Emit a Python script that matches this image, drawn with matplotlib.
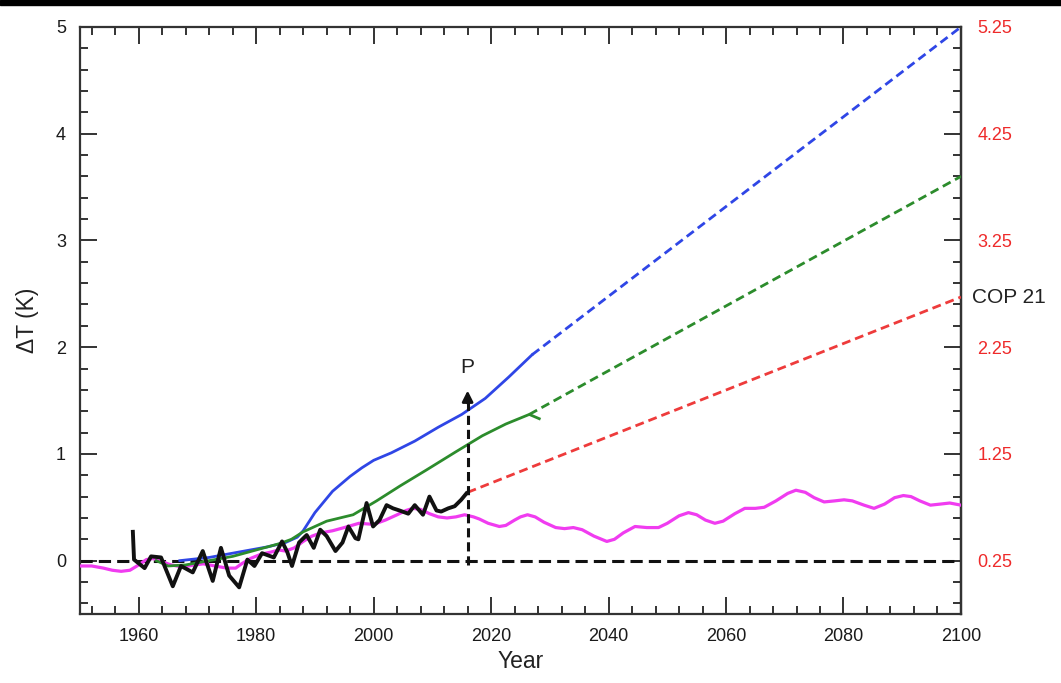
import numpy as np
import matplotlib
matplotlib.use("Agg")
import matplotlib.pyplot as plt
from matplotlib.patches import Rectangle
from matplotlib.ticker import MultipleLocator, FixedLocator

plt.rcParams['font.family'] = ['Liberation Sans', 'DejaVu Sans']

# observed temperature anomaly (black)
obs_years = [1959.0, 1959.2, 1961.0, 1962.1, 1963.8, 1965.8, 1967.2, 1969.2, 1970.9, 1972.6,
             1974.0, 1975.4, 1977.1, 1978.5, 1979.7, 1981.0, 1983.0, 1984.4, 1985.3, 1986.1,
             1987.3, 1988.6, 1989.8, 1990.9, 1992.0, 1993.5, 1994.7, 1995.7, 1996.9, 1997.4,
             1998.8, 1999.9, 2001.0, 2002.2, 2003.3, 2004.4, 2005.9, 2007.0, 2008.4, 2009.5,
             2010.7, 2011.5, 2012.7, 2013.8, 2014.9, 2015.8]
obs_vals = [0.27, 0.01, -0.07, 0.04, 0.03, -0.24, -0.05, -0.11, 0.09, -0.19,
            0.12, -0.14, -0.25, 0.01, -0.05, 0.07, 0.03, 0.18, 0.08, -0.05,
            0.17, 0.24, 0.12, 0.29, 0.23, 0.09, 0.17, 0.32, 0.21, 0.20,
            0.54, 0.32, 0.38, 0.52, 0.49, 0.47, 0.44, 0.52, 0.43, 0.60,
            0.47, 0.46, 0.49, 0.51, 0.57, 0.63]

# natural variability (magenta)
nat_years = [1950, 1952, 1954, 1955.5, 1957, 1958.5, 1960, 1961.3, 1962.5, 1964,
             1965.5, 1967.5, 1969.5, 1971, 1973, 1975, 1976.5, 1977.5, 1979, 1980.8,
             1982.5, 1983.8, 1985, 1986.5, 1988, 1989.5, 1991, 1993, 1995, 1997.5,
             2000, 2002, 2004, 2005.5, 2006.7, 2008, 2009.5, 2011, 2012.5, 2014,
             2015.5, 2017, 2018, 2019.5, 2021.4, 2022.5, 2024, 2025, 2026.2, 2027.5,
             2029, 2031, 2032.5, 2034, 2035.5, 2037.5, 2039.7, 2041, 2042.5, 2044.5,
             2046.5, 2048.5, 2050, 2052, 2053.6, 2055, 2056.5, 2058.1, 2059.5, 2061.5,
             2063.2, 2065, 2066.5, 2068.5, 2070.5, 2071.9, 2073.5, 2075, 2076.7, 2078.5,
             2080.1, 2081.5, 2083.5, 2085.2, 2087, 2088.7, 2090.2, 2091.5, 2093, 2094.8,
             2096.5, 2098.1, 2100]
nat_vals = [-0.05, -0.05, -0.07, -0.09, -0.10, -0.09, -0.04, 0.01, 0.02, -0.01,
            -0.04, -0.06, -0.04, -0.03, -0.05, -0.07, -0.07, -0.03, 0.02, 0.06,
            0.08, 0.10, 0.09, 0.12, 0.18, 0.23, 0.26, 0.28, 0.31, 0.35,
            0.34, 0.38, 0.43, 0.47, 0.49, 0.48, 0.44, 0.41, 0.40, 0.41,
            0.43, 0.41, 0.39, 0.35, 0.32, 0.33, 0.38, 0.41, 0.43, 0.41,
            0.36, 0.31, 0.30, 0.31, 0.29, 0.23, 0.18, 0.20, 0.26, 0.32,
            0.31, 0.31, 0.35, 0.42, 0.45, 0.43, 0.38, 0.35, 0.37, 0.44,
            0.49, 0.49, 0.50, 0.56, 0.63, 0.66, 0.64, 0.59, 0.55, 0.56,
            0.57, 0.56, 0.52, 0.49, 0.53, 0.59, 0.61, 0.60, 0.56, 0.52,
            0.53, 0.54, 0.52]

# model with full forcing (blue)
blue_years = [1967, 1972, 1977, 1982, 1985, 1987, 1988, 1990, 1993, 1996,
              1998, 2000, 2003, 2007, 2011, 2015, 2019, 2023, 2027]
blue_vals = [0.00, 0.03, 0.08, 0.13, 0.17, 0.22, 0.28, 0.45, 0.65, 0.79,
             0.87, 0.94, 1.01, 1.12, 1.25, 1.37, 1.52, 1.72, 1.93]
blue_proj_years = [2027, 2100]
blue_proj_vals = [1.93, 5.0]

# model (green)
green_years = [1963, 1965, 1968, 1972, 1976, 1980, 1984, 1986, 1988, 1992,
               1996.5, 2000.5, 2004.5, 2009, 2014, 2018.5, 2022.5, 2026.5, 2028.2]
green_vals = [0.00, -0.05, -0.04, 0.00, 0.04, 0.10, 0.16, 0.20, 0.27, 0.37,
              0.43, 0.56, 0.70, 0.85, 1.02, 1.17, 1.28, 1.37, 1.33]
green_proj_years = [2026.5, 2100]
green_proj_vals = [1.37, 3.6]

# COP 21 path (red)
red_years = [2016, 2100]
red_vals = [0.64, 2.47]

p_year = 2016
right_labels = ['0.25', '1.25', '2.25', '3.25', '4.25', '5.25']

fig = plt.figure(figsize=(10.61, 6.83), dpi=100)
ax = fig.add_axes([0.0754, 0.101, 0.8303, 0.8595])

dash_c = (0, (3.2, 1.8))
ax.plot(nat_years, nat_vals, color='#f03cf0', lw=2.3, zorder=3)
ax.plot(blue_years, blue_vals, color='#2f46e6', lw=2.0, zorder=4)
ax.plot(blue_proj_years, blue_proj_vals, color='#2f46e6', lw=2.0, ls=dash_c, zorder=4)
ax.plot(green_years, green_vals, color='#2c8c2c', lw=2.0, zorder=4)
ax.plot(green_proj_years, green_proj_vals, color='#2c8c2c', lw=2.0, ls=dash_c, zorder=4)
ax.plot(red_years, red_vals, color='#ee3b3b', lw=2.0, ls=dash_c, zorder=4)
ax.plot(obs_years, obs_vals, color='#111111', lw=2.8, zorder=5)

ax.axhline(0, color='#111111', lw=2.2, ls=(0, (4, 2)), zorder=2)
ax.plot([p_year, p_year], [-0.04, 1.5], color='#111111', lw=2.2, ls=(0, (3, 1.6)), zorder=6)
ax.annotate('', xy=(p_year, 1.62), xytext=(p_year, 1.45),
            arrowprops=dict(arrowstyle='-|>', color='#111111', lw=2, mutation_scale=16), zorder=6)
ax.text(p_year, 1.72, 'P', ha='center', va='bottom', fontsize=15, color='#222222')

ax.set_xlim(1950, 2100)
ax.set_ylim(-0.5, 5)
ax.xaxis.set_major_locator(MultipleLocator(20))
ax.xaxis.set_minor_locator(MultipleLocator(4))
ax.yaxis.set_major_locator(MultipleLocator(1))
ax.yaxis.set_minor_locator(MultipleLocator(0.2))
ax.set_xticks(np.arange(1960, 2101, 20))
ax.tick_params(which='both', direction='in', top=True, right=False, colors='#333333',
               labelsize=13, labelcolor='#1a1a1a', width=1.4)
ax.tick_params(which='major', length=12, pad=10)
ax.tick_params(which='minor', length=6)
for s in ax.spines.values():
    s.set_linewidth(1.6)
    s.set_color('#333333')

sec = ax.secondary_yaxis('right', functions=(lambda y: y + 0.25, lambda y: y - 0.25))
sec.yaxis.set_major_locator(FixedLocator([float(t) for t in right_labels]))
sec.yaxis.set_minor_locator(FixedLocator(np.arange(-0.15, 5.3, 0.2)))
sec.set_yticklabels(right_labels)
sec.tick_params(which='both', direction='in', colors='#333333', labelcolor='#ee2a2a',
                labelsize=13, width=1.4)
sec.tick_params(which='major', length=12, pad=12)
sec.tick_params(which='minor', length=6)
sec.spines['right'].set_linewidth(1.6)

ax.text(1.012, (2.47 + 0.5) / 5.5, 'COP 21', transform=ax.transAxes, ha='left', va='center',
        fontsize=15, color='#222222')

ax.set_xlabel('Year', fontsize=16.5, color='#222222', labelpad=4)
ax.set_ylabel('\u0394T (K)', fontsize=16.5, color='#222222', labelpad=12)

fig.patches.append(Rectangle((0, 0.992), 1, 0.008, transform=fig.transFigure, color='black', zorder=10))

fig.savefig('out.png', dpi=100)
